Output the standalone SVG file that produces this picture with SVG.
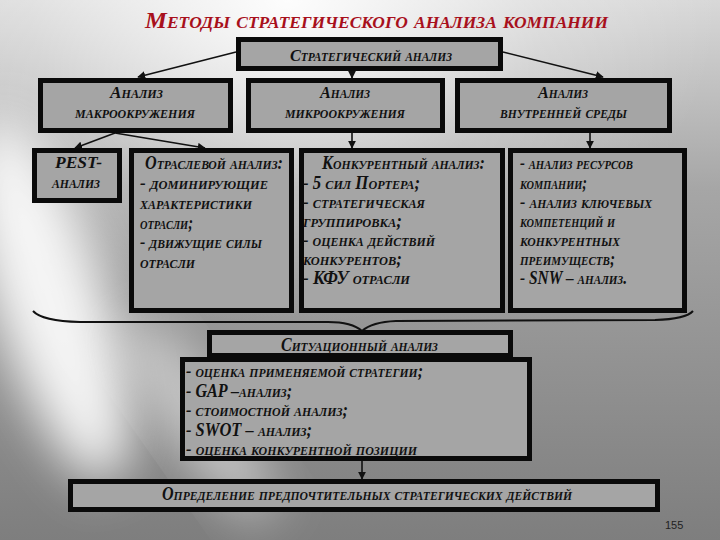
<svg xmlns="http://www.w3.org/2000/svg" width="720" height="540" viewBox="0 0 720 540">
<defs>
<linearGradient id="bg" x1="0" y1="0" x2="0" y2="1">
<stop offset="0" stop-color="#d8d8d8"/>
<stop offset="0.35" stop-color="#a6a6a6"/>
<stop offset="1" stop-color="#7e7e7e"/>
</linearGradient>
<radialGradient id="hl" cx="0.4" cy="0" r="0.6">
<stop offset="0" stop-color="#ffffff" stop-opacity="0.95"/>
<stop offset="0.6" stop-color="#ffffff" stop-opacity="0.25"/>
<stop offset="1" stop-color="#ffffff" stop-opacity="0"/>
</radialGradient>
<filter id="blur" x="-50%" y="-50%" width="200%" height="200%"><feGaussianBlur stdDeviation="25"/></filter>
<marker id="ah" viewBox="0 0 10 10" refX="9" refY="5" markerWidth="5" markerHeight="5" orient="auto-start-reverse">
<path d="M0,0 L10,5 L0,10 z" fill="#111"/>
</marker>
<style>
.box{fill:#a5a5a5;stroke:#0a0a0a;stroke-width:5}
.t{font-family:"Liberation Serif","DejaVu Serif",serif;font-style:italic;font-weight:bold;font-variant:small-caps;fill:#111}
.h{font-size:17px}
.c{font-size:18px}
.ln{stroke:#111;stroke-width:1.6;fill:none}
</style>
</defs>
<rect width="720" height="540" fill="url(#bg)"/>
<rect width="720" height="540" fill="url(#hl)"/>
<ellipse cx="50" cy="300" rx="55" ry="190" transform="rotate(-18 50 300)" fill="#ffffff" opacity="0.9" filter="url(#blur)"/>
<ellipse cx="200" cy="420" rx="30" ry="120" transform="rotate(-35 200 420)" fill="#ffffff" opacity="0.55" filter="url(#blur)"/>

<text x="145" y="28" textLength="463" lengthAdjust="spacingAndGlyphs" class="t" style="font-size:24px;fill:#a8101c">Методы стратегического анализа компании</text>

<g id="connectors">
<line class="ln" x1="236" y1="52" x2="138" y2="77" marker-end="url(#ah)"/>
<line class="ln" x1="503" y1="52" x2="603" y2="77" marker-end="url(#ah)"/>
<line class="ln" x1="352" y1="71" x2="352" y2="78" marker-end="url(#ah)"/>
<line class="ln" x1="115" y1="133" x2="75" y2="148" marker-end="url(#ah)"/>
<line class="ln" x1="115" y1="133" x2="205" y2="148" marker-end="url(#ah)"/>
<line class="ln" x1="352" y1="133" x2="352" y2="148" marker-end="url(#ah)"/>
<line class="ln" x1="590" y1="133" x2="590" y2="148" marker-end="url(#ah)"/>
<path class="ln" style="stroke-width:2" d="M33,311 Q42,321 80,322 L328,322 Q352,322 362,331 Q372,322 396,321 L655,320 Q686,319 693,311"/>
<line class="ln" x1="362" y1="461" x2="362" y2="479" marker-end="url(#ah)"/>
</g>

<g id="strategic">
<rect class="box" x="238.5" y="39.5" width="262" height="29"/>
<text x="290" y="61" textLength="162" lengthAdjust="spacingAndGlyphs" class="t h">Стратегический анализ</text>
</g>

<g id="macro">
<rect class="box" x="40.5" y="80.5" width="190" height="50"/>
<text x="110" y="98" textLength="53" lengthAdjust="spacingAndGlyphs" class="t h">Анализ</text>
<text x="75" y="118" textLength="120" lengthAdjust="spacingAndGlyphs" class="t h">макроокружения</text>
</g>

<g id="micro">
<rect class="box" x="248.5" y="80.5" width="194" height="50"/>
<text x="320" y="98" textLength="50" lengthAdjust="spacingAndGlyphs" class="t h">Анализ</text>
<text x="285" y="118" textLength="120" lengthAdjust="spacingAndGlyphs" class="t h">микроокружения</text>
</g>

<g id="internal">
<rect class="box" x="457.5" y="80.5" width="212" height="50"/>
<text x="538" y="98" textLength="50" lengthAdjust="spacingAndGlyphs" class="t h">Анализ</text>
<text x="500" y="118" textLength="127" lengthAdjust="spacingAndGlyphs" class="t h">внутренней среды</text>
</g>

<g id="pest">
<rect class="box" x="34.5" y="150.5" width="85" height="50"/>
<text x="55" y="168" textLength="47" lengthAdjust="spacingAndGlyphs" class="t h">PEST-</text>
<text x="52" y="188" textLength="48" lengthAdjust="spacingAndGlyphs" class="t h">анализ</text>
</g>

<g id="industry">
<rect class="box" x="131.5" y="150.5" width="160" height="160"/>
<text x="145" y="169" textLength="138" lengthAdjust="spacingAndGlyphs" class="t c">Отраслевой анализ:</text>
<text x="140" y="189" textLength="128" lengthAdjust="spacingAndGlyphs" class="t c">- доминирующие</text>
<text x="140" y="209" textLength="112" lengthAdjust="spacingAndGlyphs" class="t c">характеристики</text>
<text x="140" y="228.5" textLength="53" lengthAdjust="spacingAndGlyphs" class="t c">отрасли;</text>
<text x="140" y="248" textLength="122" lengthAdjust="spacingAndGlyphs" class="t c">- движущие силы</text>
<text x="140" y="267.5" textLength="55" lengthAdjust="spacingAndGlyphs" class="t c">отрасли</text>
</g>

<g id="competitive">
<rect class="box" x="301.5" y="150.5" width="201" height="160"/>
<text x="322" y="169" textLength="163" lengthAdjust="spacingAndGlyphs" class="t c">Конкурентный анализ:</text>
<text x="303" y="188.5" textLength="117" lengthAdjust="spacingAndGlyphs" class="t c">- 5 сил Портера;</text>
<text x="303" y="208" textLength="122" lengthAdjust="spacingAndGlyphs" class="t c">- стратегическая</text>
<text x="303" y="227" textLength="99" lengthAdjust="spacingAndGlyphs" class="t c">группировка;</text>
<text x="303" y="246" textLength="132" lengthAdjust="spacingAndGlyphs" class="t c">- оценка действий</text>
<text x="303" y="265" textLength="99" lengthAdjust="spacingAndGlyphs" class="t c">конкурентов;</text>
<text x="303" y="284" textLength="107" lengthAdjust="spacingAndGlyphs" class="t c">- КФУ отрасли</text>
</g>

<g id="resources">
<rect class="box" x="510.5" y="150.5" width="174" height="160"/>
<text x="520" y="169" textLength="113" lengthAdjust="spacingAndGlyphs" class="t c">- анализ ресурсов</text>
<text x="520" y="188.5" textLength="67" lengthAdjust="spacingAndGlyphs" class="t c">компании;</text>
<text x="520" y="208" textLength="132" lengthAdjust="spacingAndGlyphs" class="t c">- анализ ключевых</text>
<text x="520" y="227" textLength="95" lengthAdjust="spacingAndGlyphs" class="t c">компетенций и</text>
<text x="520" y="246" textLength="100" lengthAdjust="spacingAndGlyphs" class="t c">конкурентных</text>
<text x="520" y="265" textLength="95" lengthAdjust="spacingAndGlyphs" class="t c">преимуществ;</text>
<text x="520" y="284" textLength="107" lengthAdjust="spacingAndGlyphs" class="t c">- SNW – анализ.</text>
</g>

<g id="situational">
<rect class="box" x="209.5" y="332.5" width="301" height="23"/>
<text x="281" y="351" textLength="157" lengthAdjust="spacingAndGlyphs" class="t c">Ситуационный анализ</text>
</g>

<g id="situational-methods">
<rect class="box" x="182.5" y="359.5" width="347" height="99"/>
<text x="186" y="377" textLength="237" lengthAdjust="spacingAndGlyphs" class="t c">- оценка применяемой стратегии;</text>
<text x="186" y="396.5" textLength="106" lengthAdjust="spacingAndGlyphs" class="t c">- GAP –анализ;</text>
<text x="186" y="416" textLength="162" lengthAdjust="spacingAndGlyphs" class="t c">- стоимостной анализ;</text>
<text x="186" y="435.5" textLength="126" lengthAdjust="spacingAndGlyphs" class="t c">- SWOT – анализ;</text>
<text x="186" y="455" textLength="231" lengthAdjust="spacingAndGlyphs" class="t c">- оценка конкурентной позиции</text>
</g>

<g id="preferred">
<rect class="box" x="70.5" y="481.5" width="587" height="28"/>
<text x="162" y="500" textLength="410" lengthAdjust="spacingAndGlyphs" class="t c">Определение предпочтительных стратегических действий</text>
</g>

<text x="665" y="529" style="font-family:'Liberation Sans',Arial,sans-serif;font-size:11px;fill:#222">155</text>
</svg>
